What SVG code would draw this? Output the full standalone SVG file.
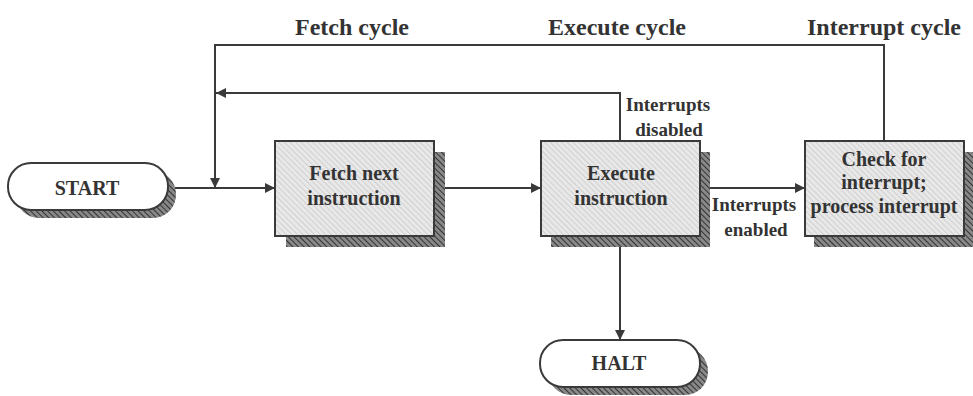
<svg xmlns="http://www.w3.org/2000/svg" width="973" height="396" viewBox="0 0 973 396">
<style>
.t{font-family:"Liberation Serif","Times New Roman",serif;font-weight:bold;fill:#333;text-anchor:middle}
.hd{font-size:24px}
.bx{font-size:20px}
.lb{font-size:19px}
.edge{fill:none;stroke:#3a3a3a;stroke-width:2}
.box{fill:url(#light);stroke:#3a3a3a;stroke-width:2}
.pill{fill:#fff;stroke:#3a3a3a;stroke-width:2}
.sh{fill:url(#dark);stroke:none}
</style>
<defs>
<pattern id="light" patternUnits="userSpaceOnUse" width="4" height="4" patternTransform="rotate(-45)">
<rect width="4" height="4" fill="#e8e8e8"/>
<line x1="0" y1="0" x2="0" y2="4" stroke="#c8c8c8" stroke-width="1.5"/>
</pattern>
<pattern id="dark" patternUnits="userSpaceOnUse" width="4" height="4" patternTransform="rotate(-45)">
<rect width="4" height="4" fill="#888"/>
<line x1="0" y1="0" x2="0" y2="4" stroke="#333" stroke-width="2"/>
</pattern>
<marker id="arr" viewBox="0 0 10 10" refX="10" refY="5" markerWidth="5" markerHeight="5" orient="auto" markerUnits="strokeWidth">
<path d="M0,0 L10,5 L0,10 z" fill="#3a3a3a"/>
</marker>
</defs>

<g id="labels">
<text class="t hd" x="352" y="35">Fetch cycle</text>
<text class="t hd" x="617" y="35">Execute cycle</text>
<text class="t hd" x="884" y="35">Interrupt cycle</text>
</g>

<g id="edges">
<path class="edge" d="M168,188 L275,188" marker-end="url(#arr)"/>
<path class="edge" d="M884,141 L884,45 L215,45 L215,188" marker-end="url(#arr)"/>
<path class="edge" d="M620,141 L620,93 L216,93" marker-end="url(#arr)"/>
<path class="edge" d="M434,188 L541,188" marker-end="url(#arr)"/>
<path class="edge" d="M700,188 L805,188" marker-end="url(#arr)"/>
<path class="edge" d="M620,236 L620,340" marker-end="url(#arr)"/>
<text class="t lb" x="668" y="111">Interrupts</text>
<text class="t lb" x="669" y="136">disabled</text>
<text class="t lb" x="754" y="211">Interrupts</text>
<text class="t lb" x="756" y="236">enabled</text>
</g>

<g id="start">
<rect class="sh" x="16" y="171" width="160" height="47" rx="23" ry="23"/>
<rect class="pill" x="8" y="163" width="160" height="47" rx="23" ry="23"/>
<text class="t bx" x="87" y="195">START</text>
</g>

<g id="fetch">
<rect class="sh" x="286" y="152" width="159" height="95"/>
<rect class="box" x="275" y="141" width="159" height="95"/>
<text class="t bx" x="354" y="180">Fetch next</text>
<text class="t bx" x="354" y="205">instruction</text>
</g>

<g id="execute">
<rect class="sh" x="551" y="152" width="159" height="95"/>
<rect class="box" x="541" y="141" width="159" height="95"/>
<text class="t bx" x="621" y="180">Execute</text>
<text class="t bx" x="621" y="205">instruction</text>
</g>

<g id="interrupt">
<rect class="sh" x="814" y="152" width="159" height="95"/>
<rect class="box" x="805" y="141" width="159" height="95"/>
<text class="t bx" x="884" y="166">Check for</text>
<text class="t bx" x="884" y="189">interrupt;</text>
<text class="t bx" x="884" y="213">process interrupt</text>
</g>

<g id="halt">
<rect class="sh" x="548" y="348" width="160" height="47" rx="23" ry="23"/>
<rect class="pill" x="540" y="340" width="160" height="47" rx="23" ry="23"/>
<text class="t bx" x="619" y="370">HALT</text>
</g>
</svg>
